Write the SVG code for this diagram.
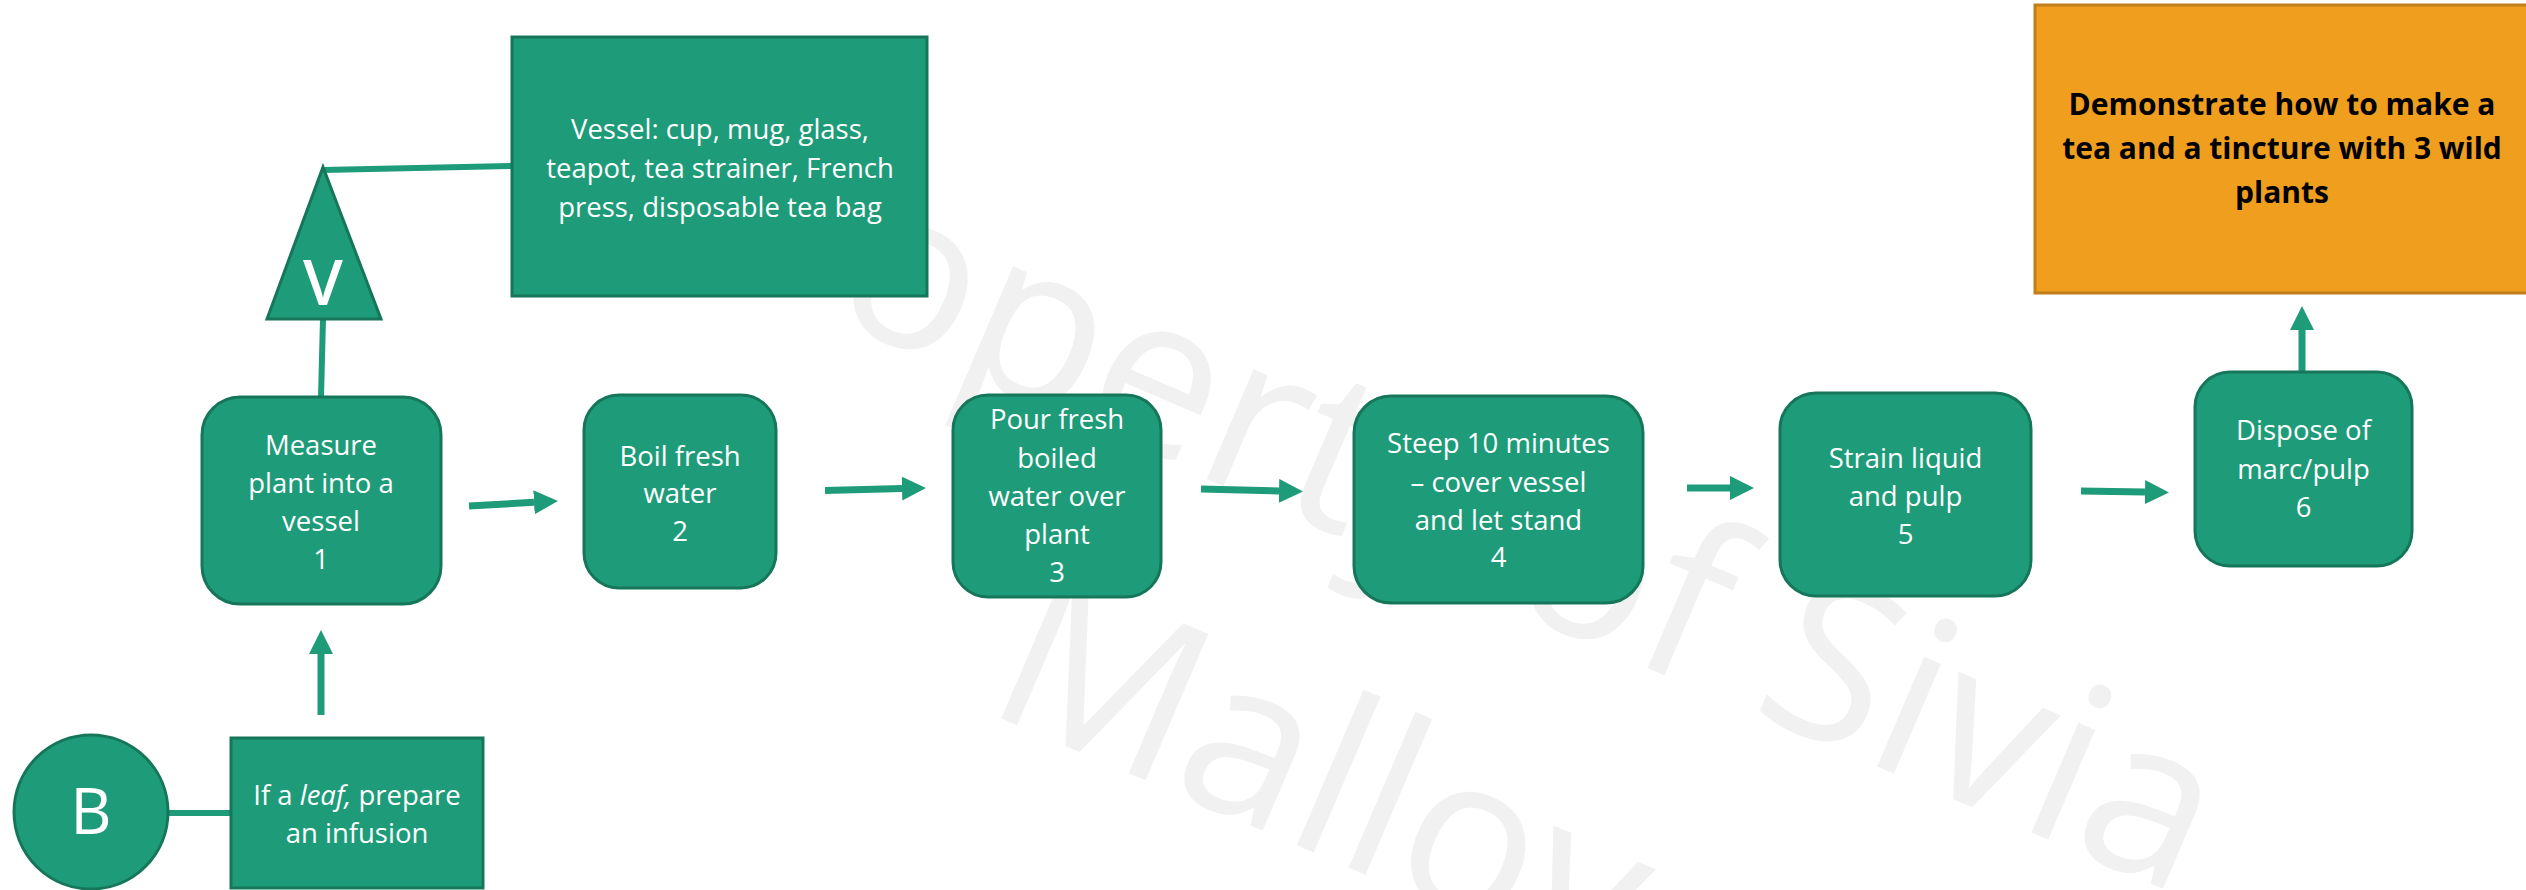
<svg xmlns="http://www.w3.org/2000/svg" width="2526" height="890" viewBox="0 0 2526 890">
<style>
.node{fill:#1e9b78;stroke:#16765a;stroke-width:3}
.tx{font-family:"Open Sans","Liberation Sans",sans-serif;font-size:27.5px;fill:#ffffff;text-anchor:middle}
.big{font-family:"Open Sans","Liberation Sans",sans-serif;font-size:64px;fill:#ffffff;text-anchor:middle}
.goal{fill:#f09e1d;stroke:#c07f1a;stroke-width:3}
.gt{font-family:"Open Sans","Liberation Sans",sans-serif;font-size:30px;font-weight:bold;fill:#000000;text-anchor:middle}
.wm{font-family:"Open Sans","Liberation Sans",sans-serif;font-size:223px;fill:#f1f1f1;text-anchor:middle}
.conn{stroke:#1e9b78;stroke-width:7;fill:none}
.link{stroke:#1e9b78;stroke-width:6;fill:none}
</style>
<defs>
<marker id="ah" markerUnits="userSpaceOnUse" markerWidth="24" markerHeight="24" refX="0" refY="12" orient="auto">
<path d="M0,0 L24,12 L0,24 z" fill="#1e9b78"/>
</marker>
</defs>
<rect width="2526" height="890" fill="#ffffff"/>
<g id="watermark" transform="rotate(23.2)">
<text class="wm" x="1507" y="-35">Property of Sivia</text>
<text class="wm" x="1523" y="266">Malloy</text>
</g>
<g id="connectors">
<line class="link" x1="323" y1="170" x2="512" y2="166"/>
<line class="link" x1="323" y1="319" x2="321" y2="397"/>
<line class="link" x1="167" y1="813" x2="231" y2="813"/>
<line class="conn" x1="321" y1="715" x2="321" y2="654" marker-end="url(#ah)"/>
<line class="conn" x1="469" y1="506" x2="534" y2="502.3" marker-end="url(#ah)"/>
<line class="conn" x1="825" y1="490.5" x2="902" y2="488.6" marker-end="url(#ah)"/>
<line class="conn" x1="1201" y1="489" x2="1279" y2="490.9" marker-end="url(#ah)"/>
<line class="conn" x1="1687" y1="488" x2="1730" y2="488" marker-end="url(#ah)"/>
<line class="conn" x1="2081" y1="491" x2="2145" y2="492.1" marker-end="url(#ah)"/>
<line class="conn" x1="2302" y1="372" x2="2302" y2="330" marker-end="url(#ah)"/>
</g>
<g id="vessel">
<rect class="node" x="512" y="37" width="415" height="259"/>
<text class="tx" x="720" y="139">Vessel: cup, mug, glass,</text>
<text class="tx" x="720" y="178">teapot, tea strainer, French</text>
<text class="tx" x="720" y="217">press, disposable tea bag</text>
</g>
<g id="v-triangle">
<polygon class="node" points="323,167 381,319 267,319"/>
<text class="big" x="323" y="305" font-weight="600">V</text>
</g>
<g id="step1">
<rect class="node" x="202" y="397" width="239" height="207" rx="38" ry="38"/>
<text class="tx" x="321" y="455">Measure</text>
<text class="tx" x="321" y="493">plant into a</text>
<text class="tx" x="321" y="531">vessel</text>
<text class="tx" x="321" y="569">1</text>
</g>
<g id="step2">
<rect class="node" x="584" y="395" width="192" height="193" rx="35" ry="35"/>
<text class="tx" x="680" y="466">Boil fresh</text>
<text class="tx" x="680" y="503">water</text>
<text class="tx" x="680" y="541">2</text>
</g>
<g id="step3">
<rect class="node" x="953" y="395" width="208" height="202" rx="35" ry="35"/>
<text class="tx" x="1057" y="429">Pour fresh</text>
<text class="tx" x="1057" y="467.5">boiled</text>
<text class="tx" x="1057" y="506">water over</text>
<text class="tx" x="1057" y="544">plant</text>
<text class="tx" x="1057" y="582">3</text>
</g>
<g id="step4">
<rect class="node" x="1354" y="396" width="289" height="207" rx="37" ry="37"/>
<text class="tx" x="1498.5" y="453">Steep 10 minutes</text>
<text class="tx" x="1498.5" y="491.5">– cover vessel</text>
<text class="tx" x="1498.5" y="530">and let stand</text>
<text class="tx" x="1498.5" y="567">4</text>
</g>
<g id="step5">
<rect class="node" x="1780" y="393" width="251" height="203" rx="36" ry="36"/>
<text class="tx" x="1905.5" y="467.5">Strain liquid</text>
<text class="tx" x="1905.5" y="506">and pulp</text>
<text class="tx" x="1905.5" y="544">5</text>
</g>
<g id="step6">
<rect class="node" x="2195" y="372" width="217" height="194" rx="35" ry="35"/>
<text class="tx" x="2303.5" y="440">Dispose of</text>
<text class="tx" x="2303.5" y="478.5">marc/pulp</text>
<text class="tx" x="2303.5" y="517">6</text>
</g>
<g id="goal">
<rect class="goal" x="2035" y="5" width="500" height="288"/>
<text class="gt" x="2282" y="115">Demonstrate how to make a</text>
<text class="gt" x="2282" y="159">tea and a tincture with 3 wild</text>
<text class="gt" x="2282" y="203">plants</text>
</g>
<g id="b-circle">
<circle class="node" cx="91" cy="812" r="77"/>
<text class="big" x="91" y="834">B</text>
</g>
<g id="leaf">
<rect class="node" x="231" y="738" width="252" height="150"/>
<text class="tx" x="357" y="805">If a <tspan font-style="italic">leaf,</tspan> prepare</text>
<text class="tx" x="357" y="843">an infusion</text>
</g>
</svg>
